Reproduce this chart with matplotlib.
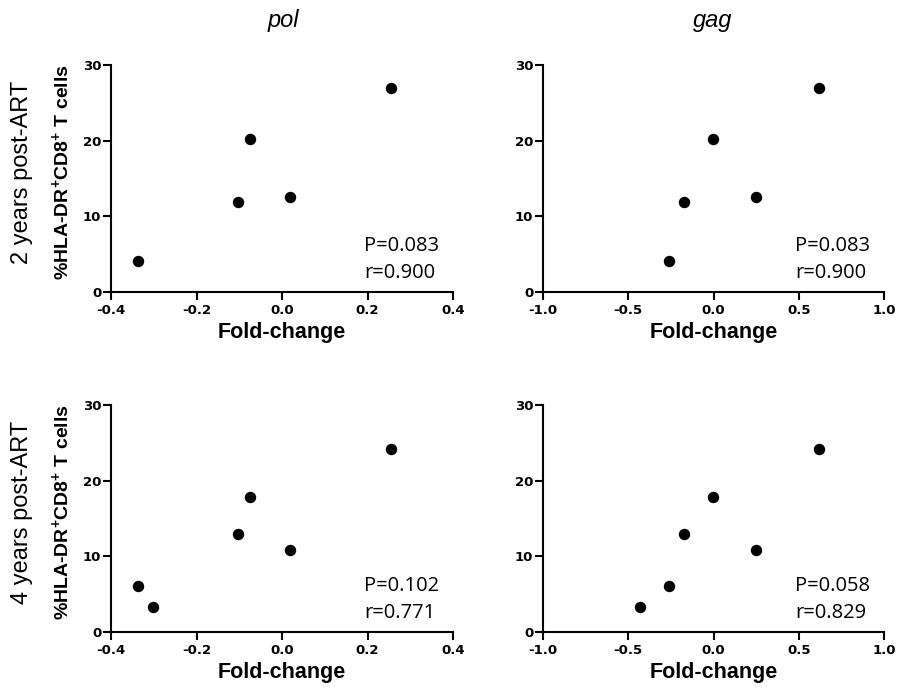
import matplotlib
matplotlib.use('Agg')
import matplotlib.pyplot as plt

plt.rcParams['font.family'] = ['Liberation Sans', 'DejaVu Sans']
plt.rcParams['mathtext.fontset'] = 'custom'
plt.rcParams['mathtext.rm'] = 'Liberation Sans'
plt.rcParams['mathtext.bf'] = 'Liberation Sans:bold'

# Fold-change values (x) and %HLA-DR+CD8+ T cells (y)
pol_2y_x = [-0.337, -0.102, -0.075, 0.019, 0.256]
gag_2y_x = [-0.259, -0.171, -0.003, 0.251, 0.618]
cells_2y = [4.1, 11.9, 20.2, 12.5, 27.0]

pol_4y_x = [-0.337, -0.302, -0.102, -0.076, 0.019, 0.256]
gag_4y_x = [-0.259, -0.430, -0.171, -0.003, 0.251, 0.618]
cells_4y = [6.1, 3.25, 13.0, 17.8, 10.9, 24.2]

stats = {
    ('2y', 'pol'): ('P=0.083', 'r=0.900'),
    ('2y', 'gag'): ('P=0.083', 'r=0.900'),
    ('4y', 'pol'): ('P=0.102', 'r=0.771'),
    ('4y', 'gag'): ('P=0.058', 'r=0.829'),
}

fig = plt.figure(figsize=(8.98, 6.96), dpi=100)

W, H = 898, 696
def add_axes(x0, x1, y0, y1):
    return fig.add_axes([x0 / W, 1 - y1 / H, (x1 - x0) / W, (y1 - y0) / H])

panels = [
    ('2y', 'pol', pol_2y_x, cells_2y, (111, 453, 65, 292), (-0.4, 0.4), [-0.4, -0.2, 0.0, 0.2, 0.4]),
    ('2y', 'gag', gag_2y_x, cells_2y, (543, 884, 65, 292), (-1.0, 1.0), [-1.0, -0.5, 0.0, 0.5, 1.0]),
    ('4y', 'pol', pol_4y_x, cells_4y, (111, 453, 405, 632), (-0.4, 0.4), [-0.4, -0.2, 0.0, 0.2, 0.4]),
    ('4y', 'gag', gag_4y_x, cells_4y, (543, 884, 405, 632), (-1.0, 1.0), [-1.0, -0.5, 0.0, 0.5, 1.0]),
]

ylab = r'%HLA-DR$^\mathbf{+}$CD8$^\mathbf{+}$ T cells'

for row, gene, xs, ys, box, xlim, xticks in panels:
    ax = add_axes(*box)
    ax.scatter(xs, ys, s=52, color='black', zorder=3, clip_on=False)
    ax.set_xlim(*xlim)
    ax.set_ylim(0, 30)
    ax.set_xticks(xticks)
    ax.set_xticklabels([f'{t:.1f}' for t in xticks])
    ax.set_yticks([0, 10, 20, 30])
    for s in ['top', 'right']:
        ax.spines[s].set_visible(False)
    for s in ['left', 'bottom']:
        ax.spines[s].set_linewidth(1.5)
    ax.tick_params(axis='x', width=1.5, length=5.5, pad=3)
    ax.tick_params(axis='y', width=1.5, length=5.5, pad=1.5)
    for lab in ax.get_xticklabels() + ax.get_yticklabels():
        lab.set_fontweight('bold')
        lab.set_family('DejaVu Sans')
        lab.set_fontsize(9.5)
    ax.set_xlabel('Fold-change', fontsize=15.5, fontweight='bold', labelpad=4)
    p_txt, r_txt = stats[(row, gene)]
    ax.text(0.74, 0.18, p_txt, transform=ax.transAxes, fontsize=14.5,
            family='Open Sans', va='baseline')
    ax.text(0.74, 0.062, r_txt, transform=ax.transAxes, fontsize=14.5,
            family='Open Sans', va='baseline')

# shared y labels and row / column headers
fig.text(62 / W, 1 - 172 / H, ylab, fontsize=14, fontweight='bold', rotation=90, ha='center', va='center')
fig.text(62 / W, 1 - 512 / H, ylab, fontsize=14, fontweight='bold', rotation=90, ha='center', va='center')
fig.text(283 / W, 1 - 20 / H, 'pol', fontsize=17, style='italic', ha='center', va='center')
fig.text(713 / W, 1 - 20 / H, 'gag', fontsize=17, style='italic', ha='center', va='center')
fig.text(22 / W, 1 - 172 / H, '2 years post-ART', fontsize=17, rotation=90, ha='center', va='center')
fig.text(22 / W, 1 - 512 / H, '4 years post-ART', fontsize=17, rotation=90, ha='center', va='center')

fig.savefig('out.png', dpi=100)
